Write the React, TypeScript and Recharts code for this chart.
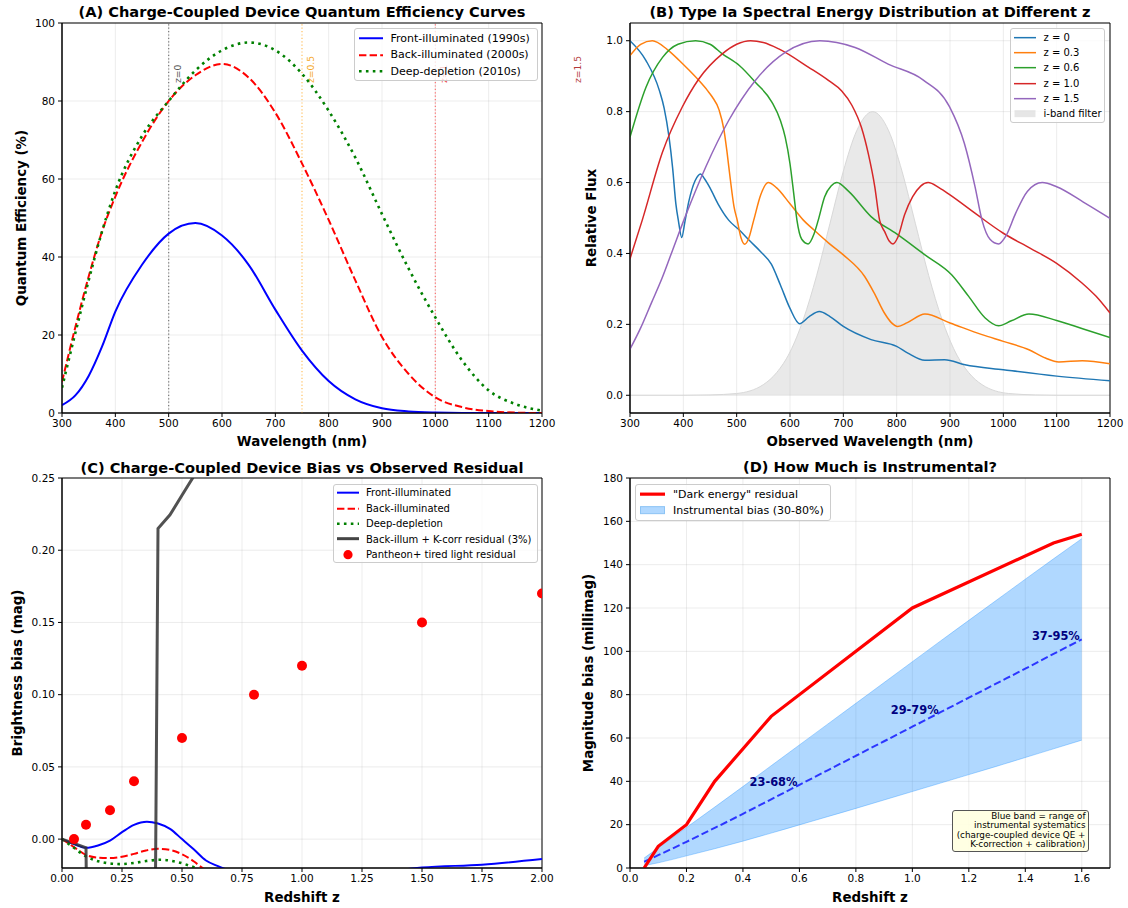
import React from "react";
import {
  Area,
  CartesianGrid,
  ComposedChart,
  Line,
  ReferenceArea,
  ReferenceDot,
  ReferenceLine,
  Scatter,
  XAxis,
  YAxis,
} from "recharts";

const FONT = "'DejaVu Sans', 'Liberation Sans', sans-serif";

// ---- (A) CCD quantum efficiency, % ----
const qeWave = [300, 325, 350, 375, 400, 450, 500, 550, 600, 650, 700, 750, 800, 850, 900, 950, 1000, 1050, 1100, 1150, 1200];
const qeFront = [2, 4.5, 9.5, 17, 26, 38, 46, 48.7, 45.5, 38, 26.5, 16, 8.2, 3.5, 1.2, 0.4, 0.1, 0, 0, 0, 0];
const qeBack = [8, 22, 35, 46.5, 55.5, 69.5, 80, 86.6, 89.5, 86, 77, 64, 49.5, 34, 19.5, 10, 4, 1.5, 0.5, 0.1, 0];
const qeDeep = [6.5, 20.5, 34, 46.5, 57, 71, 80, 87.8, 93, 95, 93, 87, 77.5, 65.5, 51, 37, 24.5, 13.5, 5.8, 2.3, 0.6];

// rest-frame 500 nm seen at each redshift
const markWave = [500, 750, 1000, 1250];
const markText = ["z=0", "z=0.5", "z=1", "z=1.5"];
const markLine = ["#7a7a7a", "#ffc060", "#ff7070", "#c04040"];
const markInk = ["#555555", "#f5a623", "#e83030", "#b33a3a"];

// ---- (B) SN Ia template at several redshifts ----
const z0Wave = [300, 330, 355, 364, 373, 380, 386, 391, 397, 403, 410, 416, 422, 428, 432, 440, 450, 465, 485, 505, 525, 545, 565, 582, 600, 618, 636, 655, 675, 700, 752, 800, 821, 853, 890, 928, 1000, 1100, 1200];
const z0Flux = [1.0, 0.944, 0.86, 0.81, 0.73, 0.64, 0.54, 0.49, 0.445, 0.49, 0.545, 0.58, 0.605, 0.62, 0.624, 0.61, 0.585, 0.54, 0.494, 0.466, 0.435, 0.405, 0.37, 0.311, 0.245, 0.202, 0.222, 0.236, 0.222, 0.194, 0.157, 0.138, 0.119, 0.099, 0.1, 0.086, 0.072, 0.054, 0.041];

const z3Wave = [300, 320, 342, 370, 392, 410, 429, 445, 454, 467, 476, 482, 488, 495, 501, 508, 515, 522, 532, 545, 559, 575, 600, 625, 645, 672, 700, 740, 758, 777, 790, 802, 820, 853, 900, 960, 1000, 1048, 1079, 1104, 1148, 1200];
const z3Flux = [0.958, 0.99, 1.0, 0.975, 0.945, 0.918, 0.888, 0.86, 0.842, 0.805, 0.75, 0.685, 0.61, 0.532, 0.494, 0.445, 0.426, 0.44, 0.494, 0.565, 0.6, 0.585, 0.54, 0.494, 0.466, 0.43, 0.396, 0.335, 0.288, 0.232, 0.205, 0.194, 0.205, 0.229, 0.204, 0.171, 0.152, 0.1285, 0.105, 0.094, 0.0976, 0.089];

const z6Wave = [300, 330, 361, 390, 423, 450, 473, 505, 535, 566, 582, 591, 600, 607, 613, 622, 634, 645, 653, 665, 677, 688, 710, 752, 800, 853, 903, 935, 966, 991, 1015, 1048, 1100, 1150, 1200];
const z6Flux = [0.728, 0.869, 0.953, 0.99, 1.0, 0.99, 0.963, 0.93, 0.883, 0.827, 0.775, 0.728, 0.653, 0.569, 0.494, 0.44, 0.427, 0.455, 0.494, 0.56, 0.59, 0.6, 0.575, 0.504, 0.455, 0.396, 0.34, 0.279, 0.218, 0.196, 0.21, 0.229, 0.211, 0.187, 0.163];

const z10Wave = [300, 323, 361, 398, 429, 473, 500, 526, 550, 579, 635, 672, 697, 716, 734, 747, 759, 768, 778, 786, 793, 802, 815, 830, 845, 859, 880, 900, 950, 1000, 1050, 1100, 1148, 1174, 1200];
const z10Flux = [0.385, 0.494, 0.686, 0.813, 0.892, 0.963, 0.99, 1.0, 0.995, 0.977, 0.925, 0.888, 0.858, 0.818, 0.755, 0.68, 0.588, 0.494, 0.46, 0.435, 0.427, 0.445, 0.51, 0.56, 0.59, 0.6, 0.585, 0.565, 0.51, 0.457, 0.415, 0.372, 0.316, 0.279, 0.232];

const z15Wave = [300, 320, 340, 360, 380, 401, 442, 485, 535, 591, 656, 722, 784, 850, 899, 927, 947, 960, 975, 991, 1005, 1023, 1045, 1073, 1100, 1150, 1200];
const z15Flux = [0.13, 0.19, 0.26, 0.33, 0.41, 0.494, 0.644, 0.775, 0.888, 0.967, 1.0, 0.981, 0.934, 0.889, 0.814, 0.71, 0.588, 0.494, 0.44, 0.427, 0.45, 0.513, 0.575, 0.6, 0.588, 0.545, 0.499];

const iWave = [300, 400, 450, 500, 550, 575, 600, 625, 650, 675, 700, 725, 755, 785, 810, 835, 860, 885, 910, 935, 960, 1010, 1060, 1100, 1200];
const iTrans = [0, 0, 0.001, 0.005, 0.03, 0.064, 0.122, 0.214, 0.338, 0.485, 0.632, 0.746, 0.8, 0.746, 0.632, 0.485, 0.338, 0.214, 0.122, 0.064, 0.03, 0.005, 0.001, 0, 0];

// ---- (C) bias vs redshift ----
const frontZ = [0, 0.05, 0.1, 0.15, 0.2, 0.25, 0.3, 0.354, 0.4, 0.45, 0.5, 0.55, 0.6, 0.65, 0.7, 0.8, 1.0, 1.2, 1.4, 1.5, 1.75, 2.0];
const frontBias = [0, -0.0035, -0.006, -0.0044, -0.001, 0.0048, 0.0099, 0.0121, 0.0108, 0.0071, 0.0, -0.0072, -0.0148, -0.0187, -0.022, -0.028, -0.031, -0.027, -0.0215, -0.0197, -0.0177, -0.0138];
const backZ = [0, 0.05, 0.1, 0.15, 0.2, 0.25, 0.3, 0.35, 0.4, 0.45, 0.5, 0.55, 0.58, 0.65, 0.8, 1.0, 1.5, 2.0];
const backBias = [0, -0.0055, -0.0109, -0.0128, -0.0131, -0.0122, -0.0102, -0.0079, -0.0067, -0.0075, -0.0105, -0.0155, -0.0194, -0.027, -0.035, -0.04, -0.045, -0.042];
const deepZ = [0, 0.05, 0.1, 0.14, 0.2, 0.24, 0.3, 0.35, 0.41, 0.47, 0.54, 0.6, 0.7, 0.8, 1.0, 1.5, 2.0];
const deepBias = [0, -0.006, -0.012, -0.0148, -0.0168, -0.0173, -0.0165, -0.0152, -0.0143, -0.0155, -0.0189, -0.023, -0.03, -0.035, -0.04, -0.045, -0.043];
const kcorrZ = [0, 0.05, 0.1, 0.2, 0.3, 0.4, 0.45, 0.5, 0.6];
const kcorrBias = [0, -0.003, -0.006, -1.6, -2.1, 0.215, 0.2245, 0.238, 0.265];
const pantheonZ = [0.05, 0.1, 0.2, 0.3, 0.5, 0.8, 1.0, 1.5, 2.0];
const pantheonRes = [0.0, 0.01, 0.02, 0.04, 0.07, 0.1, 0.12, 0.15, 0.17];

// ---- (D) instrumental share, millimag ----
const residZ = [0.05, 0.1, 0.2, 0.3, 0.5, 1.0, 1.5, 1.6];
const residMmag = [0, 10, 20, 40, 70, 120, 150, 154];
const bandZ = [0.05, 0.1, 0.2, 0.3, 0.4, 0.5, 0.6, 0.7, 0.8, 0.9, 1.0, 1.1, 1.2, 1.3, 1.4, 1.5, 1.6];
const bandLow = [1.1, 2.4, 5.6, 8.9, 12.4, 16.1, 19.9, 23.7, 27.5, 31.4, 35.3, 39.2, 43.1, 47, 51, 55, 59];
const bandHigh = [4.6, 9.3, 18.7, 28.1, 37.6, 47.2, 56.8, 66.4, 76, 85.6, 95.2, 104.8, 114.3, 123.8, 133.3, 142.7, 152];
const bandMid = [2.9, 5.9, 12.1, 18.5, 25, 31.7, 38.4, 45.1, 51.8, 58.5, 65.2, 71.9, 78.6, 85.3, 92, 98.8, 105.5];
const shareZ = [0.42, 0.92, 1.42];
const shareY = [39.9, 72.8, 106.9];
const shareText = ["23-68%", "29-79%", "37-95%"];

const zip = (xs: number[], ys: number[]) => xs.map((x, i) => ({ x, y: ys[i] }));

const qeTable = qeWave.map((x, i) => ({ x, front: qeFront[i], back: qeBack[i], deep: qeDeep[i] }));
const bandTable = bandZ.map((x, i) => ({ x, band: [bandLow[i], bandHigh[i]], mid: bandMid[i] }));

const tickStyle = { fontSize: 10.5, fill: "#000", fontFamily: FONT };
const axisBits = {
  tickSize: 4,
  tickMargin: 3,
  tick: tickStyle,
  axisLine: { stroke: "#000" },
  tickLine: { stroke: "#000" },
};
const gridProps = { stroke: "#b0b0b0", strokeOpacity: 0.3, strokeWidth: 0.8 };

const VMarkLabel = (props: any) => {
  const { viewBox, text, color } = props;
  if (!viewBox) return null;
  const x = viewBox.x + 8.5;
  const y = viewBox.y + 60;
  return (
    <text
      x={x}
      y={y}
      transform={`rotate(-90 ${x} ${y})`}
      fill={color}
      fontSize={9.2}
      fontFamily={FONT}
      textAnchor="start"
      dominantBaseline="central"
    >
      {text}
    </text>
  );
};

function Txt({ x, y, size, bold, rotate, children }: any) {
  return (
    <div
      style={{
        position: "absolute",
        left: x,
        top: y,
        transform: `translate(-50%, -50%)${rotate ? " rotate(-90deg)" : ""}`,
        fontSize: size,
        fontWeight: bold ? 700 : 400,
        whiteSpace: "nowrap",
        lineHeight: 1,
        fontFamily: FONT,
        color: "#000",
      }}
    >
      {children}
    </div>
  );
}

type LegendItem = {
  label: string;
  kind: "line" | "patch" | "dot";
  color: string;
  width?: number;
  dash?: string;
  edge?: string;
  opacity?: number;
};

function LegendBox({ left, top, width, height, row, padTop, padLeft, sample, gap, fontSize, items }: any) {
  return (
    <div
      style={{
        position: "absolute",
        left,
        top,
        width,
        height,
        boxSizing: "border-box",
        border: "1px solid #cccccc",
        borderRadius: 3,
        background: "rgba(255,255,255,0.8)",
        paddingTop: padTop,
        paddingLeft: padLeft,
        fontFamily: FONT,
        fontSize,
        color: "#000",
      }}
    >
      {items.map((it: LegendItem) => (
        <div key={it.label} style={{ display: "flex", alignItems: "center", height: row, whiteSpace: "nowrap" }}>
          <svg width={sample} height={row} style={{ flex: "none" }}>
            {it.kind === "line" && (
              <line
                x1={0}
                x2={sample}
                y1={row / 2}
                y2={row / 2}
                stroke={it.color}
                strokeWidth={it.width ?? 2}
                strokeDasharray={it.dash}
              />
            )}
            {it.kind === "patch" && (
              <rect
                x={0.5}
                y={row / 2 - 3.5}
                width={sample - 1}
                height={7}
                fill={it.color}
                fillOpacity={it.opacity ?? 1}
                stroke={it.edge ?? "none"}
              />
            )}
            {it.kind === "dot" && <circle cx={sample / 2} cy={row / 2} r={4.6} fill={it.color} />}
          </svg>
          <span style={{ marginLeft: gap }}>{it.label}</span>
        </div>
      ))}
    </div>
  );
}

function PanelA() {
  return (
    <div style={{ position: "absolute", left: 0, top: 0 }}>
      <ComposedChart width={587} height={454} data={qeTable} margin={{ top: 23, right: 45, left: 0, bottom: 0 }}>
        <CartesianGrid {...gridProps} />
        <XAxis
          type="number"
          dataKey="x"
          domain={[300, 1200]}
          ticks={[300, 400, 500, 600, 700, 800, 900, 1000, 1100, 1200]}
          height={41}
          allowDataOverflow
          {...axisBits}
        />
        <YAxis type="number" domain={[0, 100]} ticks={[0, 20, 40, 60, 80, 100]} width={62} allowDataOverflow {...axisBits} />
        {markWave.map((w, i) => (
          <ReferenceLine
            key={w}
            x={w}
            ifOverflow={w > 1200 ? "visible" : "discard"}
            stroke={w > 1200 ? "none" : markLine[i]}
            strokeWidth={1.2}
            strokeDasharray="1.2 2.2"
            label={<VMarkLabel text={markText[i]} color={markInk[i]} />}
          />
        ))}
        <Line type="monotone" dataKey="front" stroke="#0000ff" strokeWidth={2} dot={false} isAnimationActive={false} />
        <Line type="monotone" dataKey="back" stroke="#ff0000" strokeWidth={2} strokeDasharray="7.4 3.2" dot={false} isAnimationActive={false} />
        <Line type="monotone" dataKey="deep" stroke="#008000" strokeWidth={2.6} strokeDasharray="2.6 4.3" dot={false} isAnimationActive={false} />
        <ReferenceArea x1={300} x2={1200} y1={0} y2={100} fill="none" stroke="#000" strokeWidth={1} />
      </ComposedChart>
    </div>
  );
}

const bSeries = [
  { name: "z = 0", color: "#1f77b4", data: zip(z0Wave, z0Flux) },
  { name: "z = 0.3", color: "#ff7f0e", data: zip(z3Wave, z3Flux) },
  { name: "z = 0.6", color: "#2ca02c", data: zip(z6Wave, z6Flux) },
  { name: "z = 1.0", color: "#d62728", data: zip(z10Wave, z10Flux) },
  { name: "z = 1.5", color: "#9467bd", data: zip(z15Wave, z15Flux) },
];

function PanelB() {
  return (
    <div style={{ position: "absolute", left: 570, top: 0 }}>
      <ComposedChart width={555} height={454} margin={{ top: 23, right: 15, left: 0, bottom: 0 }}>
        <Area
          data={zip(iWave, iTrans)}
          type="monotone"
          dataKey="y"
          fill="#c8c8c8"
          fillOpacity={0.4}
          stroke="#d8d8d8"
          strokeWidth={1}
          isAnimationActive={false}
        />
        <CartesianGrid {...gridProps} />
        <XAxis
          type="number"
          dataKey="x"
          domain={[300, 1200]}
          ticks={[300, 400, 500, 600, 700, 800, 900, 1000, 1100, 1200]}
          height={41}
          allowDataOverflow
          {...axisBits}
        />
        <YAxis
          type="number"
          domain={[-0.05, 1.05]}
          ticks={[0, 0.2, 0.4, 0.6, 0.8, 1.0]}
          tickFormatter={(v: number) => v.toFixed(1)}
          width={60}
          allowDataOverflow
          {...axisBits}
        />
        {bSeries.map((s) => (
          <Line
            key={s.name}
            data={s.data}
            type="monotone"
            dataKey="y"
            stroke={s.color}
            strokeWidth={1.5}
            dot={false}
            isAnimationActive={false}
          />
        ))}
        <ReferenceArea x1={300} x2={1200} y1={-0.05} y2={1.05} fill="none" stroke="#000" strokeWidth={1} />
      </ComposedChart>
    </div>
  );
}

function PanelC() {
  return (
    <div style={{ position: "absolute", left: 0, top: 455 }}>
      <ComposedChart width={587} height={454} margin={{ top: 23, right: 45, left: 0, bottom: 0 }}>
        <CartesianGrid {...gridProps} />
        <XAxis
          type="number"
          dataKey="x"
          domain={[0, 2]}
          ticks={[0, 0.25, 0.5, 0.75, 1, 1.25, 1.5, 1.75, 2]}
          tickFormatter={(v: number) => v.toFixed(2)}
          height={41}
          allowDataOverflow
          {...axisBits}
        />
        <YAxis
          type="number"
          domain={[-0.02, 0.25]}
          ticks={[0, 0.05, 0.1, 0.15, 0.2, 0.25]}
          tickFormatter={(v: number) => v.toFixed(2)}
          width={62}
          allowDataOverflow
          {...axisBits}
        />
        <Line data={zip(frontZ, frontBias)} type="monotone" dataKey="y" stroke="#0000ff" strokeWidth={2} dot={false} isAnimationActive={false} />
        <Line data={zip(backZ, backBias)} type="monotone" dataKey="y" stroke="#ff0000" strokeWidth={2} strokeDasharray="7.4 3.2" dot={false} isAnimationActive={false} />
        <Line data={zip(deepZ, deepBias)} type="monotone" dataKey="y" stroke="#008000" strokeWidth={2.6} strokeDasharray="2.6 4.3" dot={false} isAnimationActive={false} />
        <Line data={zip(kcorrZ, kcorrBias)} type="linear" dataKey="y" stroke="#333333" strokeOpacity={0.85} strokeWidth={3} dot={false} isAnimationActive={false} />
        <Scatter
          data={zip(pantheonZ, pantheonRes)}
          dataKey="y"
          isAnimationActive={false}
          shape={(p: any) => <circle cx={p.cx} cy={p.cy} r={5} fill="#ff0000" />}
        />
        <ReferenceArea x1={0} x2={2} y1={-0.02} y2={0.25} fill="none" stroke="#000" strokeWidth={1} />
      </ComposedChart>
    </div>
  );
}

function PanelD() {
  return (
    <div style={{ position: "absolute", left: 570, top: 455 }}>
      <ComposedChart width={555} height={454} margin={{ top: 23, right: 15, left: 0, bottom: 0 }}>
        <CartesianGrid {...gridProps} />
        <XAxis
          type="number"
          dataKey="x"
          domain={[0, 1.7]}
          ticks={[0, 0.2, 0.4, 0.6, 0.8, 1.0, 1.2, 1.4, 1.6]}
          tickFormatter={(v: number) => v.toFixed(1)}
          height={41}
          allowDataOverflow
          {...axisBits}
        />
        <YAxis
          type="number"
          domain={[0, 180]}
          ticks={[0, 20, 40, 60, 80, 100, 120, 140, 160, 180]}
          width={60}
          allowDataOverflow
          {...axisBits}
        />
        <Area
          data={bandTable}
          type="monotone"
          dataKey="band"
          fill="#1e90ff"
          fillOpacity={0.35}
          stroke="#1e90ff"
          strokeOpacity={0.35}
          strokeWidth={1}
          isAnimationActive={false}
        />
        <Line
          data={bandTable}
          type="monotone"
          dataKey="mid"
          stroke="#0000ff"
          strokeOpacity={0.75}
          strokeWidth={2}
          strokeDasharray="7.4 3.2"
          dot={false}
          isAnimationActive={false}
        />
        <Line
          data={zip(residZ, residMmag)}
          type="linear"
          dataKey="y"
          stroke="#ff0000"
          strokeWidth={3.2}
          dot={false}
          isAnimationActive={false}
        />
        {shareZ.map((z, i) => (
          <ReferenceDot
            key={shareText[i]}
            x={z}
            y={shareY[i]}
            r={1}
            fill="none"
            stroke="none"
            label={{
              value: shareText[i],
              position: "right",
              offset: 0,
              fill: "#000080",
              fontSize: 11.4,
              fontWeight: 700,
              fontFamily: FONT,
            }}
          />
        ))}
        <ReferenceArea x1={0} x2={1.7} y1={0} y2={180} fill="none" stroke="#000" strokeWidth={1} />
      </ComposedChart>
    </div>
  );
}

export default function App() {
  return (
    <div
      style={{
        position: "absolute",
        left: 0,
        top: 0,
        width: 1128,
        height: 908,
        background: "#fff",
        fontFamily: FONT,
        overflow: "hidden",
      }}
    >
      <PanelA />
      <PanelB />
      <PanelC />
      <PanelD />

      <Txt x={302} y={12} size={14.6} bold>(A) Charge-Coupled Device Quantum Efficiency Curves</Txt>
      <Txt x={870} y={12} size={14.6} bold>(B) Type Ia Spectral Energy Distribution at Different z</Txt>
      <Txt x={302} y={467.5} size={14.6} bold>(C) Charge-Coupled Device Bias vs Observed Residual</Txt>
      <Txt x={870} y={467} size={14.6} bold>(D) How Much is Instrumental?</Txt>

      <Txt x={302} y={441.5} size={13.4} bold>Wavelength (nm)</Txt>
      <Txt x={870} y={441.5} size={13.4} bold>Observed Wavelength (nm)</Txt>
      <Txt x={302} y={897.5} size={13.4} bold>Redshift z</Txt>
      <Txt x={870} y={897.5} size={13.4} bold>Redshift z</Txt>

      <Txt x={22} y={217.5} size={13.4} bold rotate>Quantum Efficiency (%)</Txt>
      <Txt x={592} y={217.5} size={13.4} bold rotate>Relative Flux</Txt>
      <Txt x={18} y={673} size={13.4} bold rotate>Brightness bias (mag)</Txt>
      <Txt x={589} y={673} size={13.4} bold rotate>Magnitude bias (millimag)</Txt>

      <LegendBox
        left={354}
        top={28}
        width={184}
        height={53}
        row={16.5}
        padTop={1.2}
        padLeft={3.5}
        sample={24}
        gap={8}
        fontSize={11}
        items={[
          { label: "Front-illuminated (1990s)", kind: "line", color: "#0000ff", width: 2 },
          { label: "Back-illuminated (2000s)", kind: "line", color: "#ff0000", width: 2, dash: "7.4 3.2" },
          { label: "Deep-depletion (2010s)", kind: "line", color: "#008000", width: 2.6, dash: "2.6 4.3" },
        ]}
      />
      <LegendBox
        left={1010}
        top={28}
        width={95}
        height={95}
        row={15.33}
        padTop={0.6}
        padLeft={2.5}
        sample={22}
        gap={8}
        fontSize={10}
        items={[
          ...bSeries.map((s) => ({ label: s.name, kind: "line", color: s.color, width: 1.5 })),
          { label: "i-band filter", kind: "patch", color: "#c8c8c8", opacity: 0.45 },
        ]}
      />
      <LegendBox
        left={333}
        top={484}
        width={205}
        height={79}
        row={15.35}
        padTop={0.3}
        padLeft={2.5}
        sample={22}
        gap={7.5}
        fontSize={10}
        items={[
          { label: "Front-illuminated", kind: "line", color: "#0000ff", width: 2 },
          { label: "Back-illuminated", kind: "line", color: "#ff0000", width: 2, dash: "7.4 3.2" },
          { label: "Deep-depletion", kind: "line", color: "#008000", width: 2.6, dash: "2.6 4.3" },
          { label: "Back-illum + K-corr residual (3%)", kind: "line", color: "#444444", width: 3 },
          { label: "Pantheon+ tired light residual", kind: "dot", color: "#ff0000" },
        ]}
      />
      <LegendBox
        left={635}
        top={484}
        width={196}
        height={37}
        row={16.3}
        padTop={1.2}
        padLeft={3.5}
        sample={25}
        gap={8.5}
        fontSize={11}
        items={[
          { label: '"Dark energy" residual', kind: "line", color: "#ff0000", width: 3.2 },
          { label: "Instrumental bias (30-80%)", kind: "patch", color: "#1e90ff", opacity: 0.35, edge: "#8cc4f5" },
        ]}
      />

      <div
        style={{
          position: "absolute",
          left: 952,
          top: 810,
          width: 137,
          height: 42,
          boxSizing: "border-box",
          background: "rgba(255,255,224,0.9)",
          border: "1px solid #555",
          borderRadius: 3,
          padding: "1px 2.5px 0 0",
          textAlign: "right",
          fontSize: 8.8,
          lineHeight: "9.4px",
          fontFamily: FONT,
          color: "#000",
          whiteSpace: "nowrap",
        }}
      >
        <div>Blue band = range of</div>
        <div>instrumental systematics</div>
        <div>(charge-coupled device QE +</div>
        <div>K-correction + calibration)</div>
      </div>
    </div>
  );
}
